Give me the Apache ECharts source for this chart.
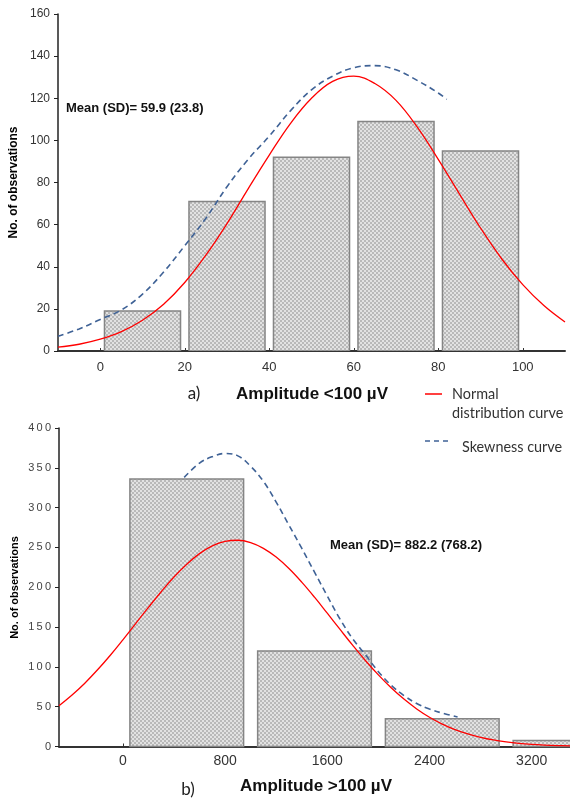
<!DOCTYPE html>
<html><head><meta charset="utf-8">
<script src="https://cdn.jsdelivr.net/npm/echarts@6/dist/echarts.min.js"></script>
<style>html,body{margin:0;padding:0;background:#fff}#c{width:570px;height:799px}</style>
</head><body><div id="c"></div>
<script>
// ---- Panel a) Amplitude <100 µV ----
const topBinCenters = [10, 30, 50, 70, 90];
const topCounts = [19, 71, 92, 109, 95];
const topBinWidth = 20;
const topXTicks = [0, 20, 40, 60, 80, 100];
const topNormalX = [-10, -5, 0, 5, 10, 15, 20, 25, 30, 35, 40, 45, 50, 55, 60, 65, 70, 75, 80, 85, 90, 95, 100, 105, 110];
const topNormalY = [1.8, 3.2, 5.6, 9.2, 14.6, 22.2, 32.5, 45.5, 60.5, 77, 93, 108, 120, 128, 130.5, 127, 119, 106.4, 91, 74.6, 58.4, 43.8, 31.5, 21.6, 13.8];
const topSkewX = [-10, -5, 0, 5, 10, 15, 20, 25, 30, 35, 40, 45, 50, 55, 60, 65, 70, 75, 80, 82];
const topSkewY = [7, 10.5, 15, 19.5, 27, 37.5, 50, 63, 78, 91, 102, 114, 124, 130.5, 134.5, 135.5, 133.5, 128.5, 122.5, 119.5];

// ---- Panel b) Amplitude >100 µV ----
const botBinCenters = [500, 1500, 2500, 3500];
const botCounts = [336, 120, 35, 7.5];
const botBinWidth = 1000;
const botXTicks = [0, 800, 1600, 2400, 3200];
const botNormalX = [-500, -400, -300, -200, -100, 0, 100, 200, 300, 400, 500, 600, 700, 800, 900, 1000, 1100, 1200, 1300, 1400, 1500, 1600, 1700, 1800, 1900, 2000, 2100, 2200, 2300, 2400, 2500, 2600, 2700, 2800, 2900, 3000, 3100, 3200, 3300, 3400, 3500];
const botNormalY = [51.3, 64.4, 79.2, 96, 114.3, 134, 154.4, 174.7, 194.4, 212.8, 228.9, 242.2, 251.9, 257.6, 259, 256.1, 248.9, 237.9, 223.5, 206.4, 187.5, 167.4, 147, 126.9, 107.7, 89.9, 73.7, 59.5, 47.2, 36.8, 28.2, 21.3, 15.8, 11.5, 8.2, 5.8, 4, 2.7, 1.8, 1.2, 0.8];
const botSkewX = [480, 600, 700, 800, 900, 1000, 1100, 1200, 1300, 1400, 1500, 1600, 1700, 1800, 1900, 2000, 2100, 2200, 2300, 2400, 2500, 2620];
const botSkewY = [338, 356, 364, 368, 365, 352, 333, 307, 278, 249, 219, 189, 160, 135, 115, 94, 77, 64, 54, 47, 42, 37];

// texture for bars
const tile = document.createElement('canvas');
tile.width = 4; tile.height = 4;
const tctx = tile.getContext('2d');
tctx.fillStyle = '#e2e2e2'; tctx.fillRect(0, 0, 4, 4);
tctx.fillStyle = '#b9b9b9'; tctx.fillRect(0, 0, 2, 2); tctx.fillRect(2, 2, 2, 2);
const barFill = { image: tile, repeat: 'repeat' };

function barRenderer(binWidth, ratio) {
  return function (params, api) {
    const c = api.value(0), v = api.value(1);
    const w = api.size([binWidth, 0])[0] * ratio;
    const p0 = api.coord([c, 0]);
    const p1 = api.coord([c, v]);
    const cs = params.coordSys;
    const shape = echarts.graphic.clipRectByRect(
      { x: p0[0] - w / 2, y: p1[1], width: w, height: p0[1] - p1[1] },
      { x: cs.x, y: cs.y, width: cs.width + 6, height: cs.height });
    if (!shape) return null;
    return { type: 'rect', shape: shape, style: { fill: barFill, stroke: '#858585', lineWidth: 1.5 } };
  };
}
const pairs = (xs, ys) => xs.map((x, i) => [x, ys[i]]);

const chart = echarts.init(document.getElementById('c'), null, { renderer: 'canvas' });
const tickFont = '"Liberation Sans", Arial, sans-serif';
const legendFont = 'Lato, "Open Sans", sans-serif';

chart.setOption({
  animation: false,
  backgroundColor: '#fff',
  grid: [
    { left: 58, right: 5, top: 14, height: 337 },
    { left: 59, right: -3, top: 428, height: 318.5 }
  ],
  xAxis: [
    { gridIndex: 0, type: 'value', min: -10, max: 110,
      axisLine: { show: true, onZero: false, lineStyle: { color: '#333', width: 2 } },
      axisTick: { show: true, inside: true, length: 3, customValues: topXTicks, lineStyle: { color: '#333' } },
      axisLabel: { customValues: topXTicks, fontSize: 13, color: '#333', margin: 10, fontFamily: tickFont, formatter: v => String(v) },
      splitLine: { show: false } },
    { gridIndex: 1, type: 'value', min: -500, max: 3500,
      axisLine: { show: true, onZero: false, lineStyle: { color: '#333', width: 2 } },
      axisTick: { show: true, inside: true, length: 3, customValues: botXTicks, lineStyle: { color: '#333' } },
      axisLabel: { customValues: botXTicks, fontSize: 14, color: '#333', margin: 8, fontFamily: tickFont, formatter: v => String(v) },
      splitLine: { show: false } }
  ],
  yAxis: [
    { gridIndex: 0, type: 'value', min: 0, max: 160, interval: 20,
      axisLine: { show: true, onZero: false, lineStyle: { color: '#222', width: 1.5 } },
      axisTick: { show: true, length: 4, lineStyle: { color: '#222' } },
      axisLabel: { fontSize: 12, color: '#333', margin: 8, fontFamily: tickFont },
      splitLine: { show: false } },
    { gridIndex: 1, type: 'value', min: 0, max: 400, interval: 50,
      axisLine: { show: true, onZero: false, lineStyle: { color: '#222', width: 1.5 } },
      axisTick: { show: true, length: 4, lineStyle: { color: '#222' } },
      axisLabel: { fontSize: 11, color: '#444', margin: 8, fontFamily: tickFont,
        formatter: v => String(v).split('').join('\u2009') },
      splitLine: { show: false } }
  ],
  series: [
    { type: 'custom', xAxisIndex: 0, yAxisIndex: 0, z: 2, renderItem: barRenderer(topBinWidth, 0.9),
      data: pairs(topBinCenters, topCounts), clip: true },
    { type: 'line', xAxisIndex: 0, yAxisIndex: 0, z: 3, smooth: 0.4, symbol: 'none',
      lineStyle: { color: '#3f6296', width: 1.6, type: [6, 4] }, data: pairs(topSkewX, topSkewY) },
    { type: 'line', xAxisIndex: 0, yAxisIndex: 0, z: 4, smooth: 0.4, symbol: 'none',
      lineStyle: { color: '#ff0000', width: 1.3 }, data: pairs(topNormalX, topNormalY) },
    { type: 'custom', xAxisIndex: 1, yAxisIndex: 1, z: 2, renderItem: barRenderer(botBinWidth, 0.89),
      data: pairs(botBinCenters, botCounts), clip: false },
    { type: 'line', xAxisIndex: 1, yAxisIndex: 1, z: 3, smooth: 0.4, symbol: 'none',
      lineStyle: { color: '#3f6296', width: 1.6, type: [6, 4] }, data: pairs(botSkewX, botSkewY) },
    { type: 'line', xAxisIndex: 1, yAxisIndex: 1, z: 4, smooth: 0.4, symbol: 'none',
      lineStyle: { color: '#ff0000', width: 1.3 }, data: pairs(botNormalX, botNormalY) }
  ],
  graphic: [
    { type: 'text', x: 13.5, y: 182.5, rotation: Math.PI / 2,
      style: { text: 'No. of observations', font: 'bold 12px ' + tickFont, align: 'center', verticalAlign: 'middle', fill: '#000' } },
    { type: 'text', x: 15, y: 587.5, rotation: Math.PI / 2,
      style: { text: 'No. of observations', font: 'bold 11px ' + tickFont, align: 'center', verticalAlign: 'middle', fill: '#000' } },
    { type: 'text', x: 66, y: 108,
      style: { text: 'Mean (SD)= 59.9 (23.8)', font: 'bold 13px ' + tickFont, align: 'left', verticalAlign: 'middle', fill: '#111' } },
    { type: 'text', x: 330, y: 545,
      style: { text: 'Mean (SD)= 882.2 (768.2)', font: 'bold 13px ' + tickFont, align: 'left', verticalAlign: 'middle', fill: '#111' } },
    { type: 'text', x: 194, y: 394,
      style: { text: 'a)', font: '17px ' + legendFont, align: 'center', verticalAlign: 'middle', fill: '#222' } },
    { type: 'text', x: 312, y: 394,
      style: { text: 'Amplitude <100 µV', font: 'bold 17px ' + tickFont, align: 'center', verticalAlign: 'middle', fill: '#111' } },
    { type: 'text', x: 188, y: 790,
      style: { text: 'b)', font: '17px ' + legendFont, align: 'center', verticalAlign: 'middle', fill: '#222' } },
    { type: 'text', x: 316, y: 786,
      style: { text: 'Amplitude >100 µV', font: 'bold 17px ' + tickFont, align: 'center', verticalAlign: 'middle', fill: '#111' } },
    { type: 'line', shape: { x1: 425, y1: 394, x2: 442, y2: 394 }, style: { stroke: '#ff0000', lineWidth: 1.5 } },
    { type: 'text', x: 452, y: 394,
      style: { text: 'Normal', font: '14.4px ' + legendFont, align: 'left', verticalAlign: 'middle', fill: '#333' } },
    { type: 'text', x: 452, y: 413,
      style: { text: 'distribution curve', font: '14.4px ' + legendFont, align: 'left', verticalAlign: 'middle', fill: '#333' } },
    { type: 'line', shape: { x1: 425, y1: 441, x2: 449, y2: 441 }, style: { stroke: '#3f6296', lineWidth: 1.5, lineDash: [5, 4] } },
    { type: 'text', x: 462, y: 447,
      style: { text: 'Skewness curve', font: '14.4px ' + legendFont, align: 'left', verticalAlign: 'middle', fill: '#333' } }
  ]
});
</script>
</body></html>
